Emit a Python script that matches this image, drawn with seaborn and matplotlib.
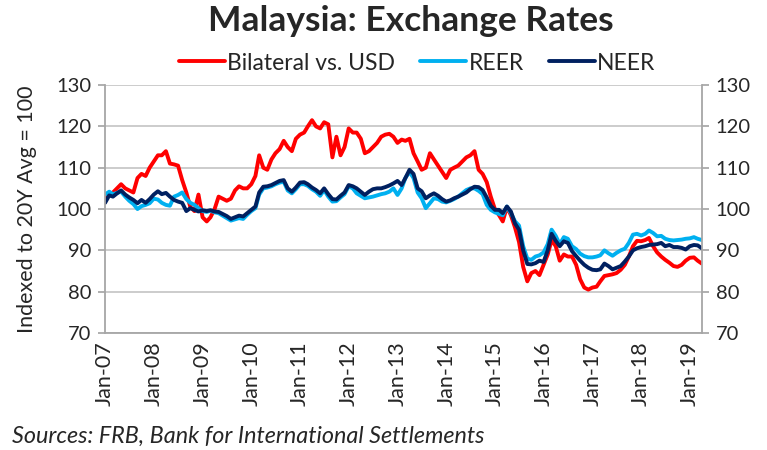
import pandas as pd
import seaborn as sns
import matplotlib.pyplot as plt
import matplotlib.dates as mdates

# monthly index levels, Jan-07 .. Apr-19
bilateral = [
    102.5, 103.5, 104, 105, 106, 105, 104.5, 104, 107.5, 108.5, 108, 110,
    111.5, 113, 113, 114, 111, 110.8, 110.5, 107, 104, 100.5, 99.5, 103.5,
    98, 97, 98, 100, 103, 102.5, 102, 102.5, 104.5, 105.5, 105, 105,
    106, 108, 113, 110, 109.5, 112, 113.5, 114.5, 116.5, 115, 114, 117,
    118, 118.5, 120, 121.5, 120, 119.5, 121, 120.5, 112.5, 117.5, 113, 115,
    119.5, 118.5, 118.5, 117, 113.5, 114, 115, 116, 117.5, 118, 118.2, 117.5,
    116, 116.8, 116.5, 117, 113.5, 111.5, 109.5, 110, 113.5, 112, 110.5, 109,
    107.5, 109.5, 110, 110.5, 111.5, 112.5, 113, 114, 109.5, 108.5, 106.5, 103,
    100, 98.5, 97, 100.5, 98.5, 95.5, 92, 86, 82.5, 84.5, 85, 84,
    86.5, 89, 92.5, 91, 87.5, 89, 88.5, 88.5, 86.5, 83, 81, 80.5,
    81, 81.2, 82.5, 83.8, 84, 84.2, 84.5, 85.3, 86.5, 88.5, 91, 92.3,
    92.2, 92.5, 93, 91, 89.5, 88.5, 87.7, 87, 86.2, 86, 86.5, 87.5,
    88.2, 88.3, 87.5, 86.8,
]
reer = [
    103.5, 104.2, 103.6, 103.9, 104.2, 103, 102, 101.2, 100, 100.7, 101, 101.4,
    102.5, 102.3, 101.5, 101, 100.8, 103, 103.4, 104, 102.4, 101.5, 101, 100.2,
    99.5, 99.3, 99.6, 99.2, 99, 98.4, 97.8, 97.2, 97.5, 97.8, 97.6, 98.6,
    99.5, 100.2, 103.5, 105, 105.2, 105.5, 106, 106.4, 106.6, 104.5, 103.8, 104.8,
    106, 106, 105.6, 104.8, 104.2, 103.2, 104.6, 103, 101.8, 101.9, 102.8, 103.6,
    105.5, 105, 103.8, 103.2, 102.6, 102.8, 103, 103.3, 103.6, 103.8, 104.2, 105,
    103.4, 105, 107.5, 109, 107.5, 104, 102.6, 100.2, 101.4, 102.6, 102.4, 101.8,
    101.6, 102, 102.4, 103, 103.8, 104.6, 105, 105, 104.4, 103.6, 101, 99.8,
    99.2, 98.8, 98.5, 100.6, 99, 97, 96, 91, 88, 87.7, 88.5, 88.8,
    89.5, 91.5, 95, 93.5, 91.5, 93.2, 92.8, 91, 90.3, 89.2, 88.6, 88.3,
    88.3, 88.5, 88.8, 90, 89.3, 88.7, 89.4, 90, 90.4, 91.8, 93.8, 94,
    93.6, 94, 94.8, 94.2, 93.4, 93.5, 92.8, 92.5, 92.4, 92.5, 92.6, 92.8,
    92.9, 93.2, 92.8, 92.5,
]
neer = [
    101.5, 103.3, 103, 103.8, 104.5, 103.5, 102.8, 102.2, 101.4, 102.2, 101.5, 102.4,
    103.5, 104.3, 103.6, 103.9, 103, 102.2, 101.8, 101.5, 99.5, 100.2, 99.8, 99.4,
    99.7, 99.5, 99.7, 99.4, 99.3, 98.8, 98.3, 97.6, 98, 98.4, 98.2, 99,
    99.8, 100.6, 104, 105.4, 105.5, 105.8, 106.3, 106.8, 107, 105, 104.2, 105.2,
    106.4, 106.5, 106, 105.2, 104.6, 103.8, 105, 103.6, 102.4, 102.3, 103.2, 104,
    105.8, 105.5, 105, 104.2, 103.4, 104.2, 104.8, 105, 105, 105.3, 105.7, 106.2,
    106.8, 105.8, 107.5, 109.5, 108.5, 105, 104.3, 102.6, 103.3, 103.8, 103.2, 102.4,
    101.8, 102.1, 102.6, 103, 103.5, 104, 104.8, 105.4, 105.3, 104.6, 102.8, 100.8,
    99.8, 99.8, 99, 100.6, 99.4, 96.5, 95, 90, 86.7, 86.6, 86.9, 87.5,
    87.2, 90, 94, 92.3, 91, 92.2, 91.8, 89.8, 88.6, 87.5, 86.5, 85.8,
    85.3, 85.2, 85.4, 86.8, 86.2, 85.4, 85.8, 86.2, 87.3, 88.5, 90, 90.5,
    90.8, 91, 91.3, 91.4, 91.5, 91.8, 91, 91.3, 90.8, 90.8, 90.6, 90.2,
    91, 91.3, 91.2, 90.5,
]
dates = pd.date_range('2007-01-01', periods=len(bilateral), freq='MS')
yticks = [70, 80, 90, 100, 110, 120, 130]

sns.set_theme(style='white')
plt.rcParams['font.family'] = ['Lato', 'DejaVu Sans']

fig = plt.figure(figsize=(7.67, 4.5), dpi=100)
ax = fig.add_axes([0.137, 0.26, 0.778, 0.551])

gray = '#A6A6A6'
for y in yticks:
    ax.axhline(y, color='#C8C8C8', lw=1.3, zorder=0)

sns.lineplot(x=dates, y=bilateral, ax=ax, color='#FF0000', lw=2.8, label='Bilateral vs. USD')
sns.lineplot(x=dates, y=reer, ax=ax, color='#00B0F0', lw=2.8, label='REER')
sns.lineplot(x=dates, y=neer, ax=ax, color='#002060', lw=2.8, label='NEER')

ax.set_xlim(dates[0], dates[-1])
ax.set_ylim(70, 130)
ax.set_yticks(yticks)
ax.xaxis.set_major_locator(mdates.MonthLocator(bymonth=1))
ax.xaxis.set_major_formatter(mdates.DateFormatter('%b-%y'))
ax.tick_params(axis='x', labelrotation=90, labelsize=15.5, length=0, pad=6)
ax.tick_params(axis='y', labelsize=14.5, length=5, color=gray, left=True, pad=5)
ax.set_ylabel('Indexed to 20Y Avg = 100', fontsize=15.5, labelpad=14)
ax.set_xlabel('')
for s in ['left', 'right', 'bottom']:
    ax.spines[s].set_color(gray)
    ax.spines[s].set_linewidth(1.3)
ax.spines['top'].set_visible(False)

ax2 = ax.twinx()
ax2.set_ylim(70, 130)
ax2.set_yticks(yticks)
ax2.tick_params(axis='y', labelsize=14.5, length=5, color=gray, right=True, pad=5)
for s in ax2.spines.values():
    s.set_visible(False)
ax2.grid(False)

handles, labels = ax.get_legend_handles_labels()
ax.get_legend().remove()
fig.legend(handles, labels, loc='center', bbox_to_anchor=(0.544, 0.86), ncol=3,
           frameon=False, fontsize=16.5, handlelength=2.0, handletextpad=0.1,
           columnspacing=1.1, borderaxespad=0)

fig.text(0.536, 0.953, 'Malaysia: Exchange Rates', ha='center', va='center',
         fontsize=25.5, fontweight='bold')
fig.text(0.015, 0.008, 'Sources: FRB, Bank for International Settlements',
         ha='left', va='bottom', fontsize=16.8, style='italic')

fig.savefig('out.png', dpi=100)
